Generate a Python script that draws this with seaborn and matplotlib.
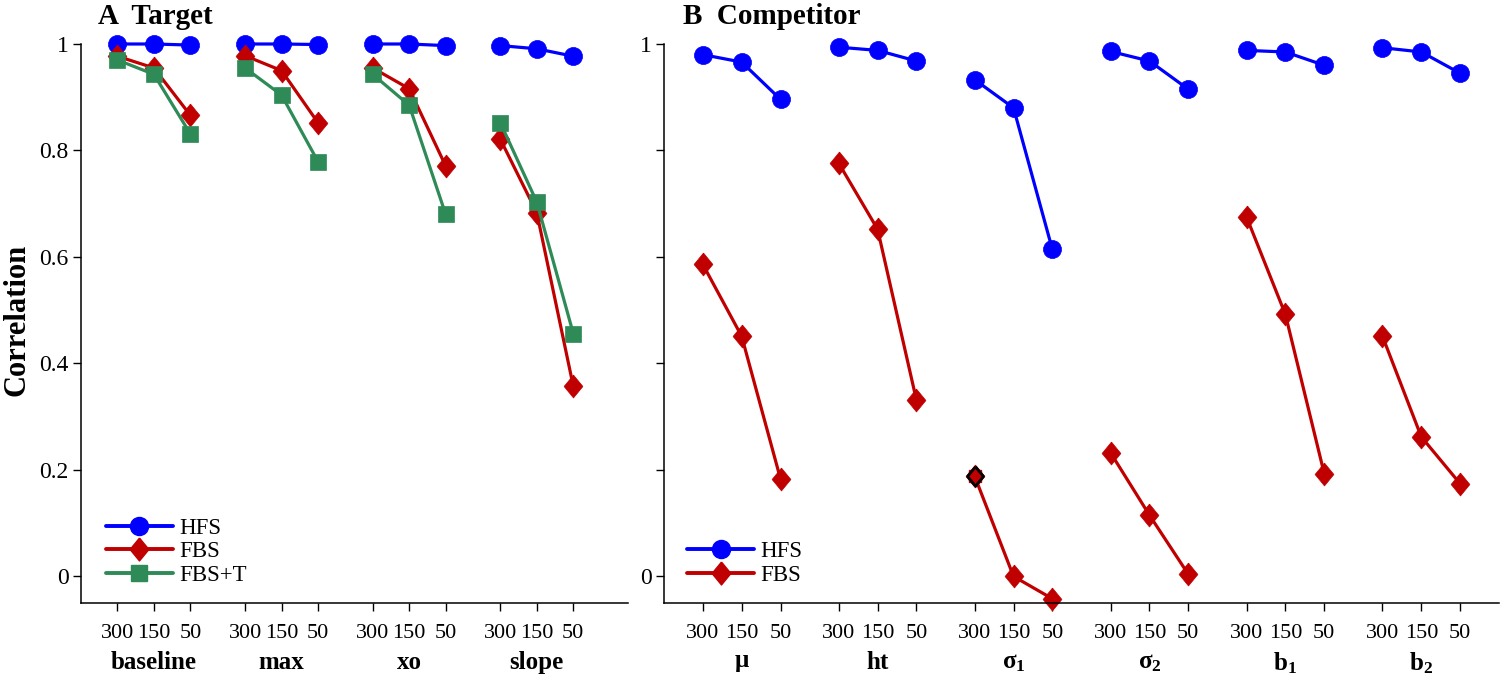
import numpy as np
import pandas as pd
import matplotlib
matplotlib.use("Agg")
import matplotlib.pyplot as plt
import seaborn as sns
from matplotlib.lines import Line2D

sns.set_theme(style="ticks")
plt.rcParams['font.family'] = ['Liberation Serif', 'DejaVu Serif']
plt.rcParams['mathtext.fontset'] = 'custom'
plt.rcParams['mathtext.rm'] = 'Liberation Serif'
plt.rcParams['mathtext.bf'] = 'Liberation Serif:bold'
plt.rcParams['mathtext.it'] = 'Liberation Serif:italic'
plt.rcParams['text.color'] = 'black'

# ---------------- data ----------------
sample_sizes = ['300', '150', '50']

target_params = ['baseline', 'max', 'xo', 'slope']
target_hfs = [1.000, 1.000, 0.998, 1.000, 1.000, 0.999, 1.000, 1.000, 0.997, 0.997, 0.991, 0.977]
target_fbs = [0.977, 0.955, 0.866, 0.978, 0.950, 0.852, 0.955, 0.916, 0.771, 0.821, 0.683, 0.357]
target_fbst = [0.970, 0.943, 0.831, 0.955, 0.904, 0.779, 0.943, 0.885, 0.680, 0.852, 0.703, 0.456]

comp_params = [r'$\mathbf{μ}$', r'$\mathbf{ht}$', r'$\mathbf{σ_1}$', r'$\mathbf{σ_2}$',
               r'$\mathbf{b_1}$', r'$\mathbf{b_2}$']
comp_hfs = [0.980, 0.966, 0.896, 0.994, 0.988, 0.968, 0.933, 0.880, 0.614,
            0.986, 0.968, 0.915, 0.988, 0.985, 0.960, 0.993, 0.985, 0.945]
comp_fbs = [0.586, 0.451, 0.183, 0.776, 0.652, 0.331, 0.188, 0.000, -0.042,
            0.232, 0.115, 0.004, 0.675, 0.492, 0.193, 0.451, 0.262, 0.174]
highlight_param = 2   # σ1, sample size 300 highlighted with black edge

y_ticks = [0, 0.2, 0.4, 0.6, 0.8, 1.0]
target_ytick_labels = ['0', '0.2', '0.4', '0.6', '0.8', '1']
comp_ytick_labels = ['0', '', '', '', '', '1']

# ---------------- style ----------------
C_HFS = '#0000FF'
C_FBS = '#C00000'
C_FBST = '#2E8B57'
diamond = [(0, 1), (0.82, 0), (0, -1), (-0.82, 0), (0, 1)]
styles = {
    'HFS': dict(color=C_HFS, marker='o', ms=13),
    'FBS': dict(color=C_FBS, marker=diamond, ms=16.5),
    'FBS+T': dict(color=C_FBST, marker='s', ms=11.5),
}
LW = 2.3
FS = 16.5


def long_df(params, series):
    rows = []
    for method, vals in series.items():
        for g, p in enumerate(params):
            for i, s in enumerate(sample_sizes):
                rows.append(dict(method=method, param=p, group=g, size=s,
                                 pos=g * 3.5 + i + 1, corr=vals[g * 3 + i]))
    return pd.DataFrame(rows)


W, H = 1500, 674
fig = plt.figure(figsize=(W / 100, H / 100), dpi=100)
axA = fig.add_axes([81 / W, 1 - 603 / H, (628 - 81) / W, (603 - 44) / H])
axB = fig.add_axes([664 / W, 1 - 603 / H, (1499 - 664) / W, (603 - 44) / H])

panels = [
    (axA, target_params, {'HFS': target_hfs, 'FBS': target_fbs, 'FBS+T': target_fbst},
     target_ytick_labels, 15.0, 'A  Target', 98, 0.046),
    (axB, comp_params, {'HFS': comp_hfs, 'FBS': comp_fbs},
     comp_ytick_labels, 21.5, 'B  Competitor', 683, 0.028),
]

for ax, params, series, ylabels, xmax, title, tx, legx in panels:
    df = long_df(params, series)
    handles = []
    for method in series:
        st = styles[method]
        sub = df[df.method == method]
        sns.lineplot(data=sub, x='pos', y='corr', units='group', estimator=None,
                     sort=False, color=st['color'], marker=st['marker'],
                     markersize=st['ms'], markeredgecolor=st['color'],
                     markeredgewidth=0.5, linewidth=LW, ax=ax, clip_on=False,
                     legend=False)
        handles.append(Line2D([], [], color=st['color'], marker=st['marker'],
                              markersize=st['ms'], markeredgecolor=st['color'],
                              linewidth=LW + 0.5, label=method))
    ax.set_xlim(0, xmax)
    ax.set_ylim(-0.05, 1.0)
    pos = df[df.method == 'HFS']['pos'].tolist()
    ax.set_xticks(pos)
    ax.set_xticklabels(sample_sizes * len(params), fontsize=16)
    ax.set_yticks(y_ticks)
    ax.set_yticklabels(ylabels, fontsize=17)
    ax.tick_params(direction='out', length=6, width=1, color='black',
                   labelcolor='black')
    ax.tick_params(axis='x', pad=9)
    ax.tick_params(axis='y', pad=3)
    for sp in ['top', 'right']:
        ax.spines[sp].set_visible(False)
    for sp in ['left', 'bottom']:
        ax.spines[sp].set_color('black')
        ax.spines[sp].set_linewidth(1.1)
    ax.set_xlabel('')
    ax.set_ylabel('')
    for g, p in enumerate(params):
        ax.text(g * 3.5 + 2, -0.107, p, transform=ax.get_xaxis_transform(),
                ha='center', va='center', fontsize=18, fontweight='bold')
    ax.legend(handles=handles, loc='lower left', bbox_to_anchor=(legx, 0.03),
              frameon=False, handlelength=2.9, handletextpad=0.3, labelspacing=0.12,
              fontsize=FS, borderaxespad=0, borderpad=0)
    fig.text(tx / W, 1 - 16 / H, title, fontsize=21, fontweight='bold',
             ha='left', va='center')

# highlighted point (σ1 at 300) with black outline
hx = highlight_param * 3.5 + 1
hy = comp_fbs[highlight_param * 3]
axB.plot([hx], [hy], marker='s', ms=9, color=C_FBS, mec=C_FBS, ls='none', zorder=5, clip_on=False)
axB.plot([hx], [hy], marker=diamond, ms=14, color=C_FBS, mec='black', mew=2,
         ls='none', zorder=6, clip_on=False)

fig.text(17 / W, 1 - 320 / H, 'Correlation', rotation=90, fontsize=22,
         fontweight='bold', ha='center', va='center')

fig.savefig('out.png', dpi=100)
